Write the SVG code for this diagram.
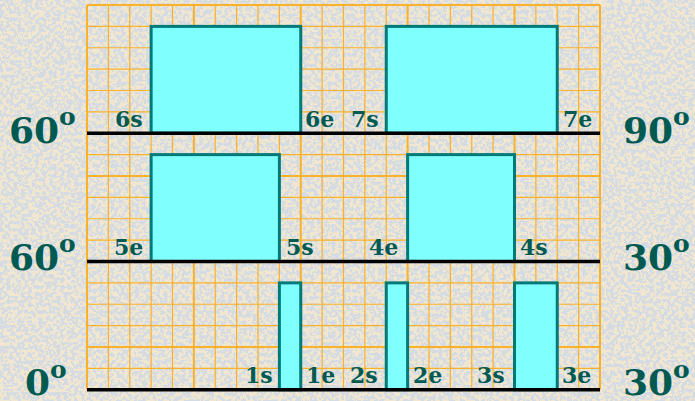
<svg xmlns="http://www.w3.org/2000/svg" width="695" height="401" viewBox="0 0 695 401">
  <defs>
    <filter id="tex" x="0" y="0" width="695" height="401" filterUnits="userSpaceOnUse" color-interpolation-filters="sRGB">
      <feTurbulence type="fractalNoise" baseFrequency="0.28" numOctaves="2" seed="7" result="n"/>
      <feColorMatrix in="n" type="matrix" values="0 0 0 0 0.835  0 0 0 0 0.86  0 0 0 0 0.89  1 0 0 0 0" result="c"/>
      <feComponentTransfer in="c" result="d"><feFuncA type="discrete" tableValues="0 1"/></feComponentTransfer>
      <feComposite in="d" in2="SourceGraphic" operator="over"/>
    </filter>
    <style>
      .grid { stroke: #FBB22A; stroke-width: 1.2; fill: none; }
      .major { stroke: #FBB22A; stroke-width: 2; fill: none; }
      .base { stroke: #000000; stroke-width: 3.5; fill: none; }
      .box { fill: #80FFFF; stroke: #007A78; stroke-width: 3; }
      .lbl { font-family: "DejaVu Serif", "Liberation Serif", serif; font-weight: bold; font-size: 22px; fill: #005A52; }
      .big { font-family: "DejaVu Serif", "Liberation Serif", serif; font-weight: bold; font-size: 36px; fill: #005A52; }
      .sup { font-size: 25px; }
    </style>
  </defs>

  <rect width="695" height="401" fill="#F1E7D1" filter="url(#tex)"/>

  <g id="grid">
    <path class="grid" d="M108.375 5V389.75M129.75 5V389.75M151.125 5V389.75M172.5 5V389.75M215.25 5V389.75M236.625 5V389.75M258 5V389.75M279.375 5V389.75M322.125 5V389.75M343.5 5V389.75M364.875 5V389.75M386.25 5V389.75M429 5V389.75M450.375 5V389.75M471.75 5V389.75M493.125 5V389.75M535.875 5V389.75M557.25 5V389.75M578.625 5V389.75"/>
    <path class="grid" d="M87 26.375H600M87 47.75H600M87 69.125H600M87 90.5H600M87 111.875H600M87 154.625H600M87 197.375H600M87 218.75H600M87 240.125H600M87 282.875H600M87 304.25H600M87 325.625H600M87 368.375H600"/>
    <path class="major" d="M87 5V389.75M193.875 5V389.75M300.75 5V389.75M407.625 5V389.75M514.5 5V389.75M600 5V389.75M87 5H600M87 176H600M87 347H600"/>
  </g>

  <g id="box6"><rect class="box" x="151.125" y="26.375" width="149.625" height="106.875"/></g>
  <g id="box7"><rect class="box" x="386.25" y="26.375" width="171" height="106.875"/></g>
  <g id="box5"><rect class="box" x="151.125" y="154.625" width="128.25" height="106.875"/></g>
  <g id="box4"><rect class="box" x="407.625" y="154.625" width="106.875" height="106.875"/></g>
  <g id="box1"><rect class="box" x="279.375" y="282.875" width="21.375" height="106.875"/></g>
  <g id="box2"><rect class="box" x="386.25" y="282.875" width="21.375" height="106.875"/></g>
  <g id="box3"><rect class="box" x="514.5" y="282.875" width="42.75" height="106.875"/></g>

  <g id="baselines">
    <path class="base" d="M87 133.25H600M87 261.5H600M87 389.75H600"/>
  </g>

  <g id="labels">
    <text class="lbl" x="115" y="127">6s</text>
    <text class="lbl" x="305" y="127">6e</text>
    <text class="lbl" x="351" y="127">7s</text>
    <text class="lbl" x="563" y="127">7e</text>
    <text class="lbl" x="114" y="255">5e</text>
    <text class="lbl" x="286" y="255">5s</text>
    <text class="lbl" x="369" y="255">4e</text>
    <text class="lbl" x="520" y="255">4s</text>
    <text class="lbl" x="245" y="383">1s</text>
    <text class="lbl" x="306" y="383">1e</text>
    <text class="lbl" x="350" y="383">2s</text>
    <text class="lbl" x="413" y="383">2e</text>
    <text class="lbl" x="477" y="383">3s</text>
    <text class="lbl" x="562" y="383">3e</text>
  </g>

  <g id="angles">
    <text class="big" x="9" y="143">60<tspan class="sup" dy="-18">o</tspan></text>
    <text class="big" x="623" y="143">90<tspan class="sup" dy="-18">o</tspan></text>
    <text class="big" x="9" y="270">60<tspan class="sup" dy="-18">o</tspan></text>
    <text class="big" x="623" y="270">30<tspan class="sup" dy="-18">o</tspan></text>
    <text class="big" x="25" y="395">0<tspan class="sup" dy="-17">o</tspan></text>
    <text class="big" x="623" y="395">30<tspan class="sup" dy="-17">o</tspan></text>
  </g>
</svg>
